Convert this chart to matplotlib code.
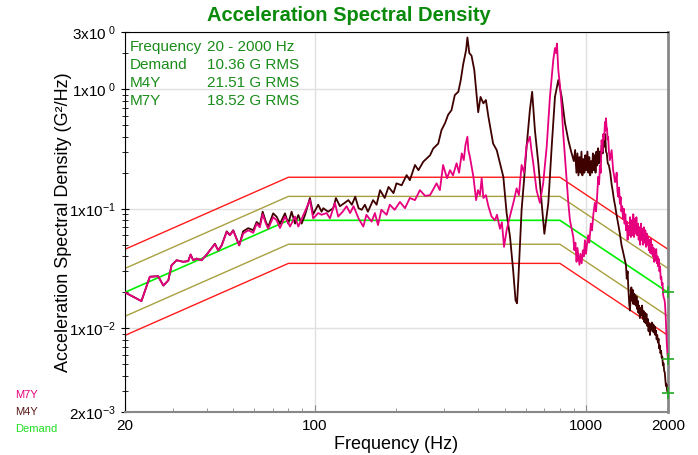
import matplotlib
matplotlib.use("Agg")
import matplotlib.pyplot as plt
import numpy as np
from matplotlib.ticker import FixedLocator, NullFormatter

plt.rcParams['font.family'] = ['Liberation Sans', 'DejaVu Sans']
plt.rcParams['mathtext.fontset'] = 'custom'
plt.rcParams['mathtext.rm'] = 'Liberation Sans'
plt.rcParams['mathtext.default'] = 'regular'

# demand profile (G^2/Hz) and tolerance bands (dB)
demand_freq = [20, 80, 800, 2000]
demand_psd = [0.02, 0.08, 0.08, 0.02]
inner_tol_db = 2.0
outer_tol_db = 3.6

# M4Y response
m4y_freq = [20, 23.0, 24.7, 26.5, 27.7, 28.9, 29.7, 31.0, 32.8, 34.2, 34.9, 35.7,
            36.7, 38.3, 40.0, 41.1, 42.9, 44.1, 45.4, 47.4, 48.7, 50.1, 52.7, 54.5,
            56.9, 59.4, 61.1, 62.8, 64.3, 66.1, 67.4, 70.3, 72.4, 74.5, 77.7, 79.9,
            82.2, 84.6, 87.0, 89.5, 92.1, 96.0, 98.7, 103, 106, 107.5, 112, 117,
            119.7, 123.8, 129, 133, 137, 141, 145, 149, 153, 157, 164, 169,
            174, 181, 187, 195, 200, 209, 218, 224, 234, 241, 251, 266,
            273, 285, 293, 302, 310, 319, 328, 338, 345, 352, 361, 365,
            371, 378, 387, 395, 400, 408, 418, 427, 436, 445, 454, 468,
            478, 495, 509, 524, 538, 549, 556, 562, 578, 590, 603, 620,
            632, 647, 666, 685, 701, 725, 746, 767, 789, 812, 835, 859,
            880, 900, 910, 920, 928, 936, 944, 952, 960, 968, 976, 984,
            992, 1000, 1010, 1018, 1026, 1034, 1042, 1050, 1058, 1066, 1074, 1082,
            1090, 1098, 1106, 1114, 1122, 1130, 1140, 1150, 1160, 1168, 1175, 1182,
            1190, 1200, 1212, 1226, 1240, 1252, 1264, 1278, 1294, 1310, 1330, 1348,
            1368, 1384, 1400, 1410, 1420, 1430, 1440, 1449, 1458, 1466, 1474, 1482,
            1490, 1498, 1506, 1514, 1522, 1532, 1540, 1548, 1556, 1566, 1576, 1586,
            1596, 1606, 1616, 1626, 1636, 1646, 1656, 1666, 1676, 1686, 1696, 1706,
            1716, 1726, 1736, 1746, 1756, 1766, 1776, 1786, 1796, 1806, 1816, 1826,
            1836, 1846, 1856, 1866, 1876, 1886, 1896, 1906, 1916, 1926, 1936, 1946,
            1956, 1966, 1976, 1986, 2000]
m4y_psd = [0.0200, 0.0169, 0.0270, 0.0273, 0.0228, 0.0252, 0.0337, 0.0371, 0.0360, 0.0365, 0.0414, 0.0371,
           0.0383, 0.0371, 0.0414, 0.0449, 0.0510, 0.0449, 0.0494, 0.0647, 0.0604, 0.0661, 0.0494, 0.0647,
           0.0688, 0.0661, 0.0776, 0.0730, 0.0944, 0.0776, 0.0706, 0.0915, 0.0857, 0.0751, 0.0915, 0.0751,
           0.0944, 0.0751, 0.0886, 0.0751, 0.0886, 0.1228, 0.0900, 0.108, 0.0944, 0.101, 0.0944, 0.101,
           0.1228, 0.105, 0.112, 0.118, 0.108, 0.126, 0.101, 0.098, 0.108, 0.0944, 0.118, 0.108,
           0.143, 0.123, 0.152, 0.135, 0.163, 0.157, 0.191, 0.173, 0.232, 0.210, 0.247, 0.280,
           0.318, 0.350, 0.454, 0.520, 0.610, 0.667, 0.890, 0.950, 1.19, 1.60, 2.12, 2.70,
           2.00, 1.90, 1.44, 0.86, 0.64, 0.86, 0.76, 0.81, 0.59, 0.454, 0.350, 0.309,
           0.255, 0.185, 0.092, 0.058, 0.0306, 0.0172, 0.0162, 0.0252, 0.098, 0.173, 0.330, 0.667,
           0.950, 0.454, 0.240, 0.112, 0.0617, 0.112, 0.330, 0.86, 1.19, 0.86, 0.520, 0.374,
           0.300, 0.250, 0.310, 0.200, 0.290, 0.190, 0.270, 0.200, 0.300, 0.190, 0.260, 0.200,
           0.280, 0.210, 0.300, 0.200, 0.270, 0.190, 0.250, 0.200, 0.290, 0.210, 0.280, 0.200,
           0.300, 0.230, 0.320, 0.240, 0.300, 0.250, 0.340, 0.290, 0.380, 0.330, 0.420, 0.300,
           0.290, 0.240, 0.230, 0.200, 0.160, 0.140, 0.120, 0.105, 0.088, 0.075, 0.062, 0.050,
           0.043, 0.038, 0.034, 0.026, 0.030, 0.021, 0.016, 0.0141, 0.019, 0.022, 0.017, 0.021,
           0.016, 0.0195, 0.016, 0.019, 0.0155, 0.0185, 0.0145, 0.017, 0.0135, 0.0155, 0.0122, 0.0148,
           0.0128, 0.0155, 0.0120, 0.0140, 0.0113, 0.0135, 0.0110, 0.0132, 0.0105, 0.0120, 0.0095, 0.0110,
           0.0088, 0.0108, 0.0098, 0.0112, 0.0094, 0.0108, 0.0092, 0.0104, 0.0088, 0.0096, 0.0081, 0.0088,
           0.0076, 0.0082, 0.0068, 0.0072, 0.0062, 0.0065, 0.0057, 0.0058, 0.0049, 0.0051, 0.0044, 0.0043,
           0.0037, 0.0033, 0.0034, 0.0030, 0.0029]

# M7Y response
m7y_freq = [20, 23.0, 24.7, 26.5, 27.7, 28.9, 29.7, 31.0, 32.8, 34.2, 34.9, 35.7,
            36.7, 38.3, 40.0, 41.1, 42.9, 44.1, 45.4, 47.4, 48.7, 50.1, 52.7, 54.5,
            56.9, 59.4, 61.1, 62.8, 64.3, 66.1, 67.4, 70.3, 72.4, 74.5, 77.7, 81.1,
            84.6, 87.0, 92.1, 96.0, 98.7, 103, 106, 110.6, 113.8, 118.7, 122, 127,
            131, 135, 139, 145, 151, 155, 162, 166.6, 171, 176, 184, 189,
            197, 206, 215, 224, 234, 244, 255, 266, 281, 289, 297, 307,
            315, 323, 333, 340, 348, 354, 359, 365, 368, 373, 384, 393,
            399, 406, 412, 418, 427, 436, 448, 461, 469, 481, 489, 498,
            509, 519, 531, 542, 554, 565, 578, 590, 603, 620, 628, 638,
            656, 675, 694, 715, 735, 748, 756, 767, 774, 780, 789, 800,
            812, 821, 835, 859, 871, 886, 896, 904, 912, 921, 928, 936,
            944, 952, 962, 972, 980, 989, 998, 1006, 1016, 1026, 1040, 1050,
            1062, 1076, 1086, 1095, 1107, 1115, 1123, 1131, 1139, 1147, 1155, 1164,
            1172, 1177, 1182, 1188, 1193, 1198, 1204, 1212, 1222, 1231, 1240, 1256,
            1266, 1276, 1285, 1294, 1303, 1312, 1321, 1330, 1339, 1347, 1356, 1366,
            1375, 1384, 1393, 1402, 1411, 1420, 1430, 1440, 1450, 1460, 1470, 1480,
            1490, 1500, 1510, 1520, 1530, 1540, 1550, 1560, 1570, 1580, 1590, 1600,
            1610, 1620, 1630, 1640, 1650, 1660, 1670, 1680, 1690, 1700, 1710, 1720,
            1730, 1740, 1750, 1760, 1770, 1780, 1790, 1800, 1810, 1820, 1830, 1840,
            1850, 1860, 1870, 1880, 1890, 1900, 1910, 1920, 1930, 1940, 1950, 1960,
            1970, 1980, 1990, 2000]
m7y_psd = [0.0200, 0.0169, 0.0270, 0.0273, 0.0228, 0.0252, 0.0337, 0.0371, 0.0360, 0.0365, 0.0414, 0.0371,
           0.0383, 0.0371, 0.0414, 0.0449, 0.0505, 0.0449, 0.0490, 0.0640, 0.0600, 0.0655, 0.0494, 0.0620,
           0.0660, 0.0630, 0.0750, 0.0700, 0.0900, 0.0750, 0.0680, 0.0850, 0.0800, 0.0690, 0.0860, 0.0710,
           0.0860, 0.0710, 0.0950, 0.118, 0.083, 0.092, 0.089, 0.092, 0.083, 0.112, 0.086, 0.095,
           0.105, 0.092, 0.105, 0.083, 0.071, 0.089, 0.078, 0.092, 0.073, 0.098, 0.089, 0.108,
           0.098, 0.114, 0.101, 0.123, 0.118, 0.143, 0.128, 0.130, 0.163, 0.143, 0.232, 0.180,
           0.210, 0.190, 0.240, 0.200, 0.290, 0.255, 0.340, 0.400, 0.309, 0.270, 0.185, 0.118,
           0.143, 0.130, 0.180, 0.123, 0.130, 0.105, 0.086, 0.080, 0.089, 0.068, 0.077, 0.048,
           0.066, 0.080, 0.098, 0.118, 0.148, 0.130, 0.232, 0.200, 0.340, 0.400, 0.309, 0.240,
           0.143, 0.112, 0.163, 0.330, 0.86, 1.32, 1.75, 2.20, 2.00, 2.40, 1.44, 1.08,
           0.71, 0.454, 0.270, 0.112, 0.080, 0.066, 0.058, 0.045, 0.052, 0.036, 0.047, 0.040,
           0.034, 0.042, 0.035, 0.045, 0.040, 0.0545, 0.042, 0.050, 0.060, 0.052, 0.075, 0.066,
           0.090, 0.112, 0.095, 0.120, 0.185, 0.160, 0.230, 0.200, 0.374, 0.300, 0.420, 0.380,
           0.530, 0.450, 0.570, 0.480, 0.470, 0.380, 0.400, 0.300, 0.255, 0.280, 0.309, 0.210,
           0.190, 0.167, 0.170, 0.200, 0.140, 0.126, 0.150, 0.110, 0.125, 0.095, 0.105, 0.082,
           0.100, 0.075, 0.090, 0.066, 0.078, 0.055, 0.072, 0.060, 0.085, 0.058, 0.080, 0.060,
           0.090, 0.058, 0.082, 0.062, 0.085, 0.060, 0.075, 0.055, 0.070, 0.050, 0.075, 0.055,
           0.068, 0.050, 0.070, 0.052, 0.066, 0.048, 0.062, 0.050, 0.058, 0.045, 0.055, 0.043,
           0.056, 0.042, 0.050, 0.040, 0.047, 0.036, 0.044, 0.037, 0.046, 0.035, 0.040, 0.033,
           0.038, 0.030, 0.033, 0.026, 0.027, 0.023, 0.024, 0.019, 0.018, 0.0175, 0.016, 0.013,
           0.0098, 0.0075, 0.0062, 0.0055]

legend_names = ['M7Y', 'M4Y', 'Demand']
info_rows = [('Frequency', '20 - 2000 Hz'), ('Demand', '10.36 G RMS'),
             ('M4Y', '21.51 G RMS'), ('M7Y', '18.52 G RMS')]

c_m7y = '#e6007e'
c_m4y = '#3f0000'
c_demand = '#00ee00'
c_text = '#1a8c1a'

fig = plt.figure(figsize=(6.98, 4.55), dpi=100)
ax = fig.add_axes([0.179, 0.0945, 0.778, 0.8352])

dem = np.array(demand_psd)
for db, col in [(outer_tol_db, '#ff1a1a'), (inner_tol_db, '#a8a040')]:
    k = 10 ** (db / 10)
    ax.plot(demand_freq, dem * k, color=col, lw=1.0, zorder=2)
    ax.plot(demand_freq, dem / k, color=col, lw=1.0, zorder=2)
ax.plot(demand_freq, dem, color=c_demand, lw=1.2, zorder=3)

ax.plot(m4y_freq, m4y_psd, color=c_m4y, lw=1.3, zorder=4)
ax.plot(m7y_freq, m7y_psd, color=c_m7y, lw=1.3, zorder=5)

# end markers at 2000 Hz
ax.plot([2000, 2000, 2000], [demand_psd[-1], m7y_psd[-1], m4y_psd[-1]],
        ls='none', marker='+', ms=8, mew=1.2, color='#22aa22', clip_on=False, zorder=6)

ax.set_xscale('log')
ax.set_yscale('log')
ax.set_xlim(20, 2000)
ax.set_ylim(2e-3, 3)

ax.set_xticks([20, 100, 1000, 2000], labels=['20', '100', '1000', '2000'])
ax.xaxis.set_minor_locator(FixedLocator([30, 40, 50, 60, 70, 80, 90, 200, 300, 400,
                                         500, 600, 700, 800, 900]))
ax.xaxis.set_minor_formatter(NullFormatter())
ax.set_yticks([2e-3, 1e-2, 1e-1, 1, 3],
              labels=['2x10$^{-3}$', '1x10$^{-2}$', '1x10$^{-1}$', '1x10$^{\\ 0}$', '3x10$^{\\ 0}$'])
ax.yaxis.set_minor_locator(FixedLocator([3e-3, 4e-3, 5e-3, 6e-3, 7e-3, 8e-3, 9e-3,
                                         2e-2, 3e-2, 4e-2, 5e-2, 6e-2, 7e-2, 8e-2, 9e-2,
                                         0.2, 0.3, 0.4, 0.5, 0.6, 0.7, 0.8, 0.9, 2]))
ax.yaxis.set_minor_formatter(NullFormatter())

ax.tick_params(axis='x', which='both', direction='in', color='#888888', labelsize=11, pad=5)
ax.tick_params(axis='x', which='major', length=5)
ax.tick_params(axis='x', which='minor', length=3)
ax.tick_params(axis='y', which='both', direction='inout', color='black', labelsize=11)
ax.tick_params(axis='y', which='major', length=6)
ax.tick_params(axis='y', which='minor', length=5)

ax.grid(True, which='major', color='#e0e0e0', lw=1.0, zorder=0)
ax.set_axisbelow(True)

ax.spines['left'].set_color('black')
ax.spines['top'].set_color('black')
ax.spines['right'].set_color('#888888')
ax.spines['right'].set_linewidth(2.0)
ax.spines['bottom'].set_color('#888888')
ax.spines['bottom'].set_linewidth(1.5)

ax.set_xlabel('Frequency (Hz)', fontsize=13, labelpad=2)
ax.set_ylabel('Acceleration Spectral Density (G²/Hz)', fontsize=13)
ax.yaxis.set_label_coords(-0.098, 0.5)
fig.text(0.5, 0.965, 'Acceleration Spectral Density', ha='center', va='center',
         fontsize=14.5, fontweight='bold', color='#0a8a0a')

for i, (name, val) in enumerate(info_rows):
    y = 0.978 - i * 0.0474
    ax.text(0.008, y, name, transform=ax.transAxes, color=c_text, fontsize=11, va='top')
    ax.text(0.152, y, val, transform=ax.transAxes, color=c_text, fontsize=11, va='top')

for i, (name, col) in enumerate(zip(legend_names, [c_m7y, '#5a1a1a', '#22dd22'])):
    fig.text(0.0215, 0.132 - i * 0.0374, name, color=col, fontsize=8, va='center')

fig.savefig('out.png', dpi=100)
